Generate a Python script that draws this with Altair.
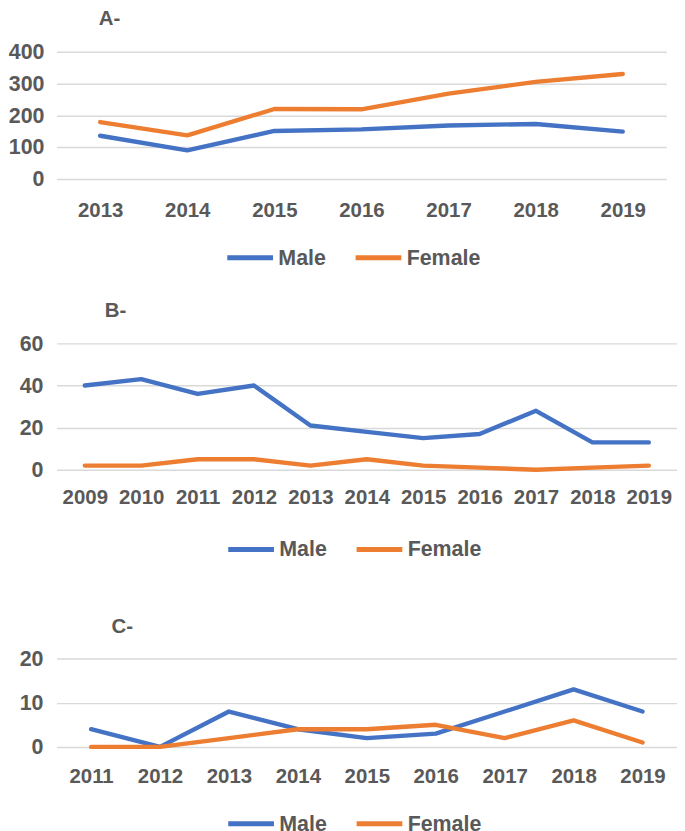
import altair as alt
import pandas as pd

series_names = ["Male", "Female"]
series_colors = ["#4472C4", "#ED7D31"]

a_years = ["2013", "2014", "2015", "2016", "2017", "2018", "2019"]
a_male = [136, 90, 151, 156, 168, 173, 149]
a_female = [179, 137, 220, 219, 268, 305, 330]
a_ticks = [0, 100, 200, 300, 400]

b_years = ["2009", "2010", "2011", "2012", "2013", "2014", "2015", "2016", "2017", "2018", "2019"]
b_male = [40, 43, 36, 40, 21, 18, 15, 17, 28, 13, 13]
b_female = [2, 2, 5, 5, 2, 5, 2, 1, 0, 1, 2]
b_ticks = [0, 20, 40, 60]

c_years = ["2011", "2012", "2013", "2014", "2015", "2016", "2017", "2018", "2019"]
c_male = [4, 0, 8, 4, 2, 3, 8, 13, 8]
c_female = [0, 0, 2, 4, 4, 5, 2, 6, 1]
c_ticks = [0, 10, 20]

FONT = "Liberation Sans"
GREY = "#595959"


def make_df(years, male, female):
    rows = []
    for y, v in zip(years, male):
        rows.append({"Year": y, "Value": v, "Sex": "Male"})
    for y, v in zip(years, female):
        rows.append({"Year": y, "Value": v, "Sex": "Female"})
    return pd.DataFrame(rows)


def panel(title, years, male, female, ticks, width, height, lx, ly, dx, offset,
          xpad, ypad):
    df = make_df(years, male, female)
    return (
        alt.Chart(df, title=alt.TitleParams(title, anchor="start", dx=dx, offset=offset,
                                             font=FONT, fontSize=21, fontWeight="bold",
                                             color=GREY))
        .mark_line(strokeWidth=4.5, strokeCap="round", strokeJoin="round")
        .encode(
            x=alt.X("Year:O", sort=years, title=None,
                    axis=alt.Axis(labelAngle=0, domain=False, ticks=False, grid=False,
                                  labelPadding=xpad, labelFontSize=21, labelFont=FONT,
                                  labelFontWeight="bold", labelColor=GREY)),
            y=alt.Y("Value:Q", title=None,
                    scale=alt.Scale(domain=[ticks[0], ticks[-1]], nice=False),
                    axis=alt.Axis(values=ticks, domain=False, ticks=False, grid=True,
                                  gridColor="#D9D9D9", gridWidth=1.5,
                                  labelPadding=ypad, labelFontSize=22, labelFont=FONT,
                                  labelFontWeight="bold", labelColor=GREY)),
            color=alt.Color("Sex:N", sort=series_names,
                            scale=alt.Scale(domain=series_names, range=series_colors),
                            legend=alt.Legend(title=None, orient="none", legendX=lx, legendY=ly,
                                              direction="horizontal", symbolType="stroke",
                                              symbolSize=2209, symbolStrokeWidth=5,
                                              labelFontSize=22, labelFont=FONT,
                                              labelFontWeight="bold", labelColor=GREY,
                                              labelOffset=3, columnPadding=20)),
        )
        .properties(width=width, height=height)
    )


pa = panel("A-", a_years, a_male, a_female, a_ticks, 627, 131, 173, 186, 93, 12, 22, 13)
pb = panel("B-", b_years, b_male, b_female, b_ticks, 638, 130, 174, 186, 88, 12, 18, 14)
pc = panel(["", "C-"], c_years, c_male, c_female, c_ticks, 638, 91, 174, 144, 95, 11, 20, 14)

chart = (
    alt.vconcat(pa, pb, pc, spacing=33)
    .resolve_scale(color="independent")
    .resolve_legend(color="independent")
    .properties(padding={"left": 0, "top": -11, "right": 0, "bottom": 0})
    .configure_view(stroke=None)
    .configure_title(lineHeight=25)
)

chart.save("out.html", embed_options={"renderer": "svg", "actions": False})
